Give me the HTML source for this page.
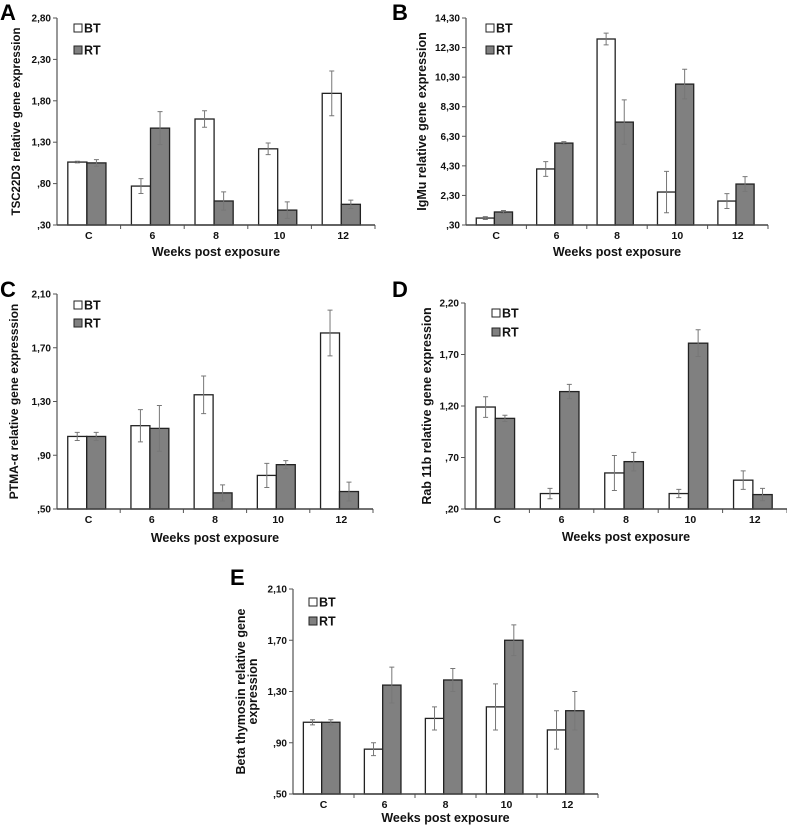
<!DOCTYPE html>
<html><head><meta charset="utf-8"><style>
body{margin:0;background:#fff;}
svg{display:block;font-family:"Liberation Sans",Arial,sans-serif;font-weight:bold;}
text{font-weight:bold;}
</style></head><body>
<svg id="fig" width="787" height="826" viewBox="0 0 787 826" xmlns="http://www.w3.org/2000/svg"></svg>
<script>
const categories = ["C","6","8","10","12"];
const aBT = [1.06,0.77,1.58,1.22,1.89];
const aBTerr = [0.01,0.09,0.10,0.07,0.27];
const aRT = [1.05,1.47,0.59,0.48,0.55];
const aRTerr = [0.04,0.20,0.11,0.10,0.05];
const aTicks = [",30",",80","1,30","1,80","2,30","2,80"];
const bBT = [0.77,4.09,12.88,2.53,1.92];
const bBTerr = [0.1,0.5,0.4,1.4,0.5];
const bRT = [1.18,5.84,7.26,9.83,3.07];
const bRTerr = [0.1,0.1,1.5,1.0,0.5];
const bTicks = [",30","2,30","4,30","6,30","8,30","10,30","12,30","14,30"];
const cBT = [1.04,1.12,1.35,0.75,1.81];
const cBTerr = [0.03,0.12,0.14,0.09,0.17];
const cRT = [1.04,1.10,0.62,0.83,0.63];
const cRTerr = [0.03,0.17,0.06,0.03,0.07];
const cTicks = [",50",",90","1,30","1,70","2,10"];
const dBT = [1.19,0.35,0.55,0.35,0.48];
const dBTerr = [0.10,0.05,0.17,0.04,0.09];
const dRT = [1.08,1.34,0.66,1.81,0.34];
const dRTerr = [0.03,0.07,0.09,0.13,0.06];
const dTicks = [",20",",70","1,20","1,70","2,20"];
const eBT = [1.06,0.85,1.09,1.18,1.00];
const eBTerr = [0.02,0.05,0.09,0.18,0.15];
const eRT = [1.06,1.35,1.39,1.70,1.15];
const eRTerr = [0.02,0.14,0.09,0.12,0.15];
const eTicks = [",50",",90","1,30","1,70","2,10"];

const NS="http://www.w3.org/2000/svg";
const svg=document.getElementById('fig');
function mk(tag,attrs,parent,text){const e=document.createElementNS(NS,tag);for(const k in attrs)e.setAttribute(k,attrs[k]);if(text!==undefined)e.textContent=text;(parent||svg).appendChild(e);return e;}

function panel(p){
  const g=mk('g',{});
  
  
  const yScale=v=>p.y1-(v-p.vmin)/(p.vmax-p.vmin)*(p.y1-p.y0);
  const W=(p.x1-p.x0)/categories.length;
  const L=mk('text',{x:p.lx,y:p.ly,'font-size':22,fill:'#000'},g,p.id);
  
  
  for(let i=0;i<categories.length;i++){
    const cx=p.x0+i*W;
    [[p.bt,p.bterr,'#fff',0.17],[p.rt,p.rterr,'#808080',0.47]].forEach((s,j)=>{
      const v=s[0][i],er=s[1][i];
      const bx=cx+s[3]*W,bw=0.3*W,top=yScale(v);
      const r=mk('rect',{x:bx,y:top,width:bw,height:p.y1-top,fill:s[2],stroke:'#222','stroke-width':1.3},g);
      
      
      const mx=bx+bw/2,ya=yScale(v+er),yb=yScale(v-er);
      const eb=mk('path',{d:`M${mx},${ya}V${yb}M${mx-2.5},${ya}H${mx+2.5}M${mx-2.5},${yb}H${mx+2.5}`,stroke:'#777','stroke-width':1,fill:'none'},g);
      
      
    });
    const t=mk('text',{x:cx+W/2,y:p.y1+14,'font-size':10.5,'text-anchor':'middle',fill:'#111'},g,categories[i]);
    
    
    mk('line',{x1:cx+W,x2:cx+W,y1:p.y1,y2:p.y1+4,stroke:'#555'},g);
  }
  mk('line',{x1:p.x0,x2:p.x0,y1:p.y0,y2:p.y1,stroke:'#777','stroke-width':1.5},g);
  mk('line',{x1:p.x0,x2:p.x1,y1:p.y1,y2:p.y1,stroke:'#444','stroke-width':1.5},g);
  p.ticks.forEach((lab,k)=>{
    const y=p.y0+(p.y1-p.y0)*(1-k/(p.ticks.length-1));
    mk('line',{x1:p.x0-4,x2:p.x0,y1:y,y2:y,stroke:'#555'},g);
    const t=mk('text',{x:p.x0-6,y:y+3.5,'font-size':10,'text-anchor':'end',fill:'#111'},g,lab);
    
    
  });
  const xt=mk('text',{x:(p.x0+p.x1)/2,y:p.xty,'font-size':12.5,'text-anchor':'middle',fill:'#111'},g,'Weeks post exposure');
  
  
  const yc=(p.y0+p.y1)/2;
  p.ylab.forEach((line,k)=>{
    const x=p.ylx+k*12;
    const t=mk('text',{x:x,y:yc,'font-size':p.yfs||12.5,'text-anchor':'middle',transform:`rotate(-90 ${x} ${yc})`,fill:'#111'},g,line);
    
    
  });
  [['BT','#fff',p.legy],['RT','#808080',p.legy+p.legdy]].forEach(l=>{
    const r=mk('rect',{x:p.legx,y:l[2]-8,width:8,height:8,fill:l[1],stroke:'#222','stroke-width':1},g);
    
    
    const t=mk('text',{x:p.legx+10,y:l[2]+0.5,'font-size':12.5,fill:'#111'},g,l[0]);
    
    
  });
}
panel({id:'A',lx:0,ly:20,x0:57,x1:375,y0:18,y1:225,vmin:0.3,vmax:2.8,bt:aBT,bterr:aBTerr,rt:aRT,rterr:aRTerr,ticks:aTicks,xty:256,ylx:20,yfs:11.5,ylab:['TSC22D3 relative gene expression'],legx:74,legy:32,legdy:22});
panel({id:'B',lx:392,ly:20,x0:466,x1:768,y0:18,y1:225,vmin:0.3,vmax:14.3,bt:bBT,bterr:bBTerr,rt:bRT,rterr:bRTerr,ticks:bTicks,xty:256,ylx:426,ylab:['IgMu relative gene expression'],legx:486,legy:32,legdy:22});
panel({id:'C',lx:0,ly:297,x0:57,x1:373,y0:294,y1:509,vmin:0.5,vmax:2.1,bt:cBT,bterr:cBTerr,rt:cRT,rterr:cRTerr,ticks:cTicks,xty:542,ylx:18,yfs:12,ylab:['PTMA-\u03b1 relative gene  expresssion'],legx:74,legy:309,legdy:18});
panel({id:'D',lx:392,ly:297,x0:465,x1:787,y0:303,y1:509,vmin:0.2,vmax:2.2,bt:dBT,bterr:dBTerr,rt:dRT,rterr:dRTerr,ticks:dTicks,xty:541,ylx:431,ylab:['Rab 11b relative gene expression'],legx:492,legy:317,legdy:19});
panel({id:'E',lx:230,ly:585,x0:293,x1:598,y0:589,y1:794,vmin:0.5,vmax:2.1,bt:eBT,bterr:eBTerr,rt:eRT,rterr:eRTerr,ticks:eTicks,xty:822,ylx:245,ylab:['Beta thymosin relative gene','expression'],legx:309,legy:606,legdy:19});
</script>
</body></html>
